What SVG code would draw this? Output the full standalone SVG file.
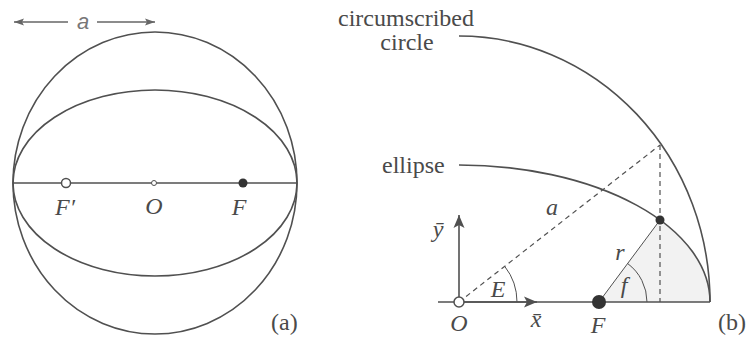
<svg xmlns="http://www.w3.org/2000/svg" width="748" height="338" viewBox="0 0 748 338">
<style>
.ln{fill:none;stroke:#505050;stroke-width:1.6}
.th{fill:none;stroke:#505050;stroke-width:1}
.ds{fill:none;stroke:#505050;stroke-width:1.2;stroke-dasharray:5 4}
.tx{font-family:"Liberation Serif","Times New Roman",serif;font-size:24px;fill:#4a4a4a}
.it{font-style:italic}
.sa{font-family:"Liberation Sans",Arial,sans-serif;font-size:22px;fill:#777;font-style:italic}
</style>
<defs>
<marker id="ah" viewBox="-14 -6 15 12" refX="0" refY="0" markerWidth="15" markerHeight="12" orient="auto" markerUnits="userSpaceOnUse">
<path d="M0,0 L-13,-5.5 L-10,0 L-13,5.5 Z" fill="#505050"/>
</marker>
<marker id="ahs" viewBox="-11 -4 12 8" refX="0" refY="0" markerWidth="12" markerHeight="8" orient="auto" markerUnits="userSpaceOnUse">
<path d="M0,0 L-10,-3.5 L-8,0 L-10,3.5 Z" fill="#666"/>
</marker>
</defs>
<rect width="748" height="338" fill="#fff"/>

<!-- (a) -->
<g id="a-circle"><ellipse class="ln" cx="155" cy="183" rx="142" ry="151"/></g>
<g id="a-ellipse"><ellipse class="ln" cx="155" cy="183" rx="142" ry="93"/></g>
<g id="a-axis"><line class="ln" x1="13" y1="183" x2="297" y2="183"/></g>
<g id="a-dim">
<line x1="68" y1="22" x2="14" y2="22" stroke="#666" stroke-width="1.3" marker-end="url(#ahs)"/>
<line x1="97" y1="22" x2="155" y2="22" stroke="#666" stroke-width="1.3" marker-end="url(#ahs)"/>
<text class="sa" x="83" y="29" text-anchor="middle">a</text>
</g>
<g id="a-Fp"><circle cx="66" cy="183" r="4.5" fill="#fff" stroke="#505050" stroke-width="1.5"/><text class="tx it" x="65" y="215" text-anchor="middle">F′</text></g>
<g id="a-O"><circle cx="154" cy="183" r="2.5" fill="#fff" stroke="#505050" stroke-width="1"/><text class="tx it" x="154" y="214" text-anchor="middle">O</text></g>
<g id="a-F"><circle cx="243" cy="183" r="4.5" fill="#333"/><text class="tx it" x="239" y="215" text-anchor="middle">F</text></g>
<text class="tx" x="271" y="330">(a)</text>

<!-- (b) -->
<g id="b-shade"><path d="M599,302 L660,220 A251,137 0 0 1 710,302 Z" fill="#f2f2f2"/></g>
<g id="b-circle"><path class="ln" d="M459,36 A251,266 0 0 1 710,302"/>
<text class="tx" x="406" y="26" text-anchor="middle">circumscribed</text>
<text class="tx" x="407" y="50" text-anchor="middle">circle</text></g>
<g id="b-ellipse"><path class="ln" d="M459,165 A251,137 0 0 1 710,302"/>
<text class="tx" x="382" y="173">ellipse</text></g>
<g id="connectors">
<line class="ds" x1="459" y1="302" x2="660" y2="145"/>
<line class="ds" x1="660" y1="145" x2="660" y2="302"/>
<line class="th" x1="599" y1="302" x2="660" y2="220"/>
<path class="th" d="M517,302 A58,58 0 0 0 504.7,266.3"/>
<path class="th" d="M647,302 A48,48 0 0 0 627.6,263.5"/>
<line class="ln" x1="438" y1="302" x2="710" y2="302"/>
<line class="ln" x1="459" y1="302" x2="537" y2="302" marker-end="url(#ah)"/>
<line class="ln" x1="459" y1="302" x2="459" y2="215" marker-end="url(#ah)"/>
</g>
<text class="tx it" x="552" y="215" text-anchor="middle">a</text>
<text class="tx it" x="620" y="260" text-anchor="middle">r</text>
<text class="tx it" x="498" y="297" text-anchor="middle">E</text>
<text class="tx it" x="624" y="293" text-anchor="middle">f</text>
<g id="b-ybar"><text class="tx it" x="438" y="237" text-anchor="middle">ȳ</text></g>
<g id="b-xbar"><text class="tx it" x="536" y="327" text-anchor="middle">x̄</text></g>
<g id="b-P"><circle cx="660" cy="220" r="4.5" fill="#333"/></g>
<g id="b-F"><circle cx="599" cy="302" r="7" fill="#333"/><text class="tx it" x="598" y="333" text-anchor="middle">F</text></g>
<g id="b-O"><circle cx="459" cy="302" r="5" fill="#fff" stroke="#505050" stroke-width="1.5"/><text class="tx it" x="459" y="331" text-anchor="middle">O</text></g>
<text class="tx" x="746" y="330" text-anchor="end">(b)</text>
</svg>
